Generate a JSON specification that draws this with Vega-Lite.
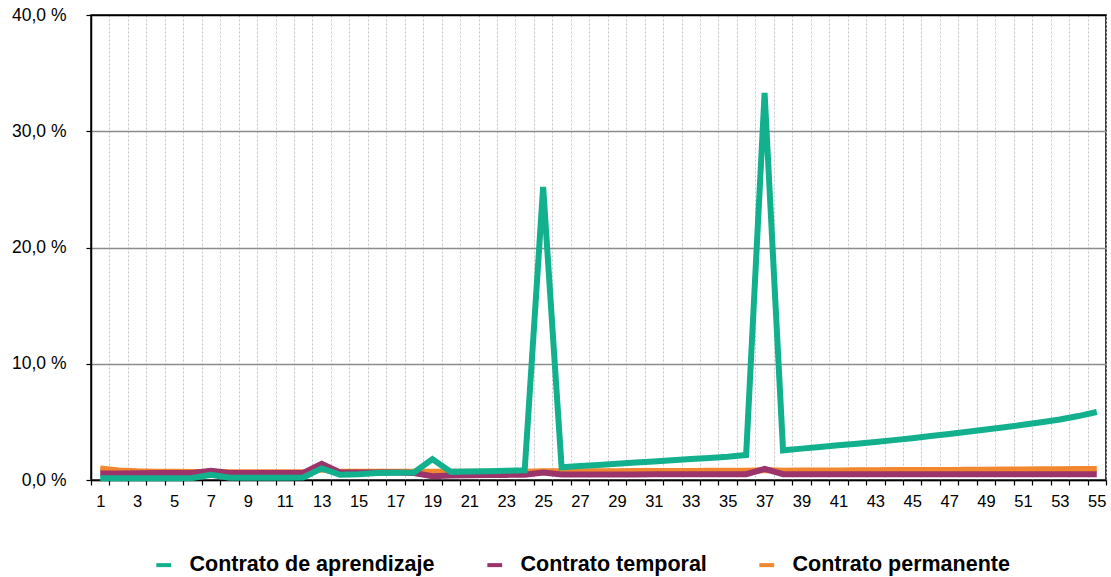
{
  "$schema": "https://vega.github.io/schema/vega-lite/v6.json",
  "autosize": {"type": "none"},
  "padding": {"left": 91, "top": 15, "right": 5, "bottom": 97},
  "width": 1015,
  "height": 465,
  "background": "white",
  "config": {
    "font": "Liberation Sans",
    "view": {"stroke": "#000", "strokeWidth": 1.5}
  },
  "data": {"values": [
    {"w":1,"s":"Contrato permanente","v":1.0},{"w":2,"s":"Contrato permanente","v":0.82},{"w":3,"s":"Contrato permanente","v":0.75},{"w":4,"s":"Contrato permanente","v":0.72},{"w":5,"s":"Contrato permanente","v":0.7},{"w":6,"s":"Contrato permanente","v":0.68},{"w":7,"s":"Contrato permanente","v":0.68},{"w":8,"s":"Contrato permanente","v":0.66},{"w":9,"s":"Contrato permanente","v":0.66},{"w":10,"s":"Contrato permanente","v":0.66},{"w":11,"s":"Contrato permanente","v":0.66},{"w":12,"s":"Contrato permanente","v":0.66},{"w":13,"s":"Contrato permanente","v":0.9},{"w":14,"s":"Contrato permanente","v":0.7},{"w":15,"s":"Contrato permanente","v":0.7},{"w":16,"s":"Contrato permanente","v":0.7},{"w":17,"s":"Contrato permanente","v":0.7},{"w":18,"s":"Contrato permanente","v":0.7},{"w":19,"s":"Contrato permanente","v":0.7},{"w":20,"s":"Contrato permanente","v":0.7},{"w":21,"s":"Contrato permanente","v":0.7},{"w":22,"s":"Contrato permanente","v":0.7},{"w":23,"s":"Contrato permanente","v":0.71},{"w":24,"s":"Contrato permanente","v":0.72},{"w":25,"s":"Contrato permanente","v":0.75},{"w":26,"s":"Contrato permanente","v":0.75},{"w":27,"s":"Contrato permanente","v":0.75},{"w":28,"s":"Contrato permanente","v":0.76},{"w":29,"s":"Contrato permanente","v":0.76},{"w":30,"s":"Contrato permanente","v":0.77},{"w":31,"s":"Contrato permanente","v":0.77},{"w":32,"s":"Contrato permanente","v":0.78},{"w":33,"s":"Contrato permanente","v":0.78},{"w":34,"s":"Contrato permanente","v":0.79},{"w":35,"s":"Contrato permanente","v":0.79},{"w":36,"s":"Contrato permanente","v":0.8},{"w":37,"s":"Contrato permanente","v":0.85},{"w":38,"s":"Contrato permanente","v":0.8},{"w":39,"s":"Contrato permanente","v":0.81},{"w":40,"s":"Contrato permanente","v":0.82},{"w":41,"s":"Contrato permanente","v":0.82},{"w":42,"s":"Contrato permanente","v":0.83},{"w":43,"s":"Contrato permanente","v":0.84},{"w":44,"s":"Contrato permanente","v":0.85},{"w":45,"s":"Contrato permanente","v":0.85},{"w":46,"s":"Contrato permanente","v":0.86},{"w":47,"s":"Contrato permanente","v":0.87},{"w":48,"s":"Contrato permanente","v":0.88},{"w":49,"s":"Contrato permanente","v":0.89},{"w":50,"s":"Contrato permanente","v":0.9},{"w":51,"s":"Contrato permanente","v":0.91},{"w":52,"s":"Contrato permanente","v":0.92},{"w":53,"s":"Contrato permanente","v":0.93},{"w":54,"s":"Contrato permanente","v":0.94},{"w":55,"s":"Contrato permanente","v":0.95},
    {"w":1,"s":"Contrato temporal","v":0.55},{"w":2,"s":"Contrato temporal","v":0.55},{"w":3,"s":"Contrato temporal","v":0.57},{"w":4,"s":"Contrato temporal","v":0.6},{"w":5,"s":"Contrato temporal","v":0.6},{"w":6,"s":"Contrato temporal","v":0.6},{"w":7,"s":"Contrato temporal","v":0.8},{"w":8,"s":"Contrato temporal","v":0.6},{"w":9,"s":"Contrato temporal","v":0.6},{"w":10,"s":"Contrato temporal","v":0.6},{"w":11,"s":"Contrato temporal","v":0.6},{"w":12,"s":"Contrato temporal","v":0.6},{"w":13,"s":"Contrato temporal","v":1.4},{"w":14,"s":"Contrato temporal","v":0.65},{"w":15,"s":"Contrato temporal","v":0.65},{"w":16,"s":"Contrato temporal","v":0.65},{"w":17,"s":"Contrato temporal","v":0.65},{"w":18,"s":"Contrato temporal","v":0.6},{"w":19,"s":"Contrato temporal","v":0.32},{"w":20,"s":"Contrato temporal","v":0.38},{"w":21,"s":"Contrato temporal","v":0.4},{"w":22,"s":"Contrato temporal","v":0.42},{"w":23,"s":"Contrato temporal","v":0.44},{"w":24,"s":"Contrato temporal","v":0.46},{"w":25,"s":"Contrato temporal","v":0.65},{"w":26,"s":"Contrato temporal","v":0.47},{"w":27,"s":"Contrato temporal","v":0.47},{"w":28,"s":"Contrato temporal","v":0.48},{"w":29,"s":"Contrato temporal","v":0.48},{"w":30,"s":"Contrato temporal","v":0.48},{"w":31,"s":"Contrato temporal","v":0.49},{"w":32,"s":"Contrato temporal","v":0.49},{"w":33,"s":"Contrato temporal","v":0.49},{"w":34,"s":"Contrato temporal","v":0.5},{"w":35,"s":"Contrato temporal","v":0.5},{"w":36,"s":"Contrato temporal","v":0.5},{"w":37,"s":"Contrato temporal","v":0.95},{"w":38,"s":"Contrato temporal","v":0.5},{"w":39,"s":"Contrato temporal","v":0.5},{"w":40,"s":"Contrato temporal","v":0.5},{"w":41,"s":"Contrato temporal","v":0.5},{"w":42,"s":"Contrato temporal","v":0.5},{"w":43,"s":"Contrato temporal","v":0.5},{"w":44,"s":"Contrato temporal","v":0.5},{"w":45,"s":"Contrato temporal","v":0.5},{"w":46,"s":"Contrato temporal","v":0.5},{"w":47,"s":"Contrato temporal","v":0.5},{"w":48,"s":"Contrato temporal","v":0.5},{"w":49,"s":"Contrato temporal","v":0.5},{"w":50,"s":"Contrato temporal","v":0.5},{"w":51,"s":"Contrato temporal","v":0.5},{"w":52,"s":"Contrato temporal","v":0.5},{"w":53,"s":"Contrato temporal","v":0.5},{"w":54,"s":"Contrato temporal","v":0.5},{"w":55,"s":"Contrato temporal","v":0.5},
    {"w":1,"s":"Contrato de aprendizaje","v":0.15},{"w":2,"s":"Contrato de aprendizaje","v":0.15},{"w":3,"s":"Contrato de aprendizaje","v":0.15},{"w":4,"s":"Contrato de aprendizaje","v":0.15},{"w":5,"s":"Contrato de aprendizaje","v":0.15},{"w":6,"s":"Contrato de aprendizaje","v":0.17},{"w":7,"s":"Contrato de aprendizaje","v":0.45},{"w":8,"s":"Contrato de aprendizaje","v":0.2},{"w":9,"s":"Contrato de aprendizaje","v":0.2},{"w":10,"s":"Contrato de aprendizaje","v":0.2},{"w":11,"s":"Contrato de aprendizaje","v":0.2},{"w":12,"s":"Contrato de aprendizaje","v":0.22},{"w":13,"s":"Contrato de aprendizaje","v":1.0},{"w":14,"s":"Contrato de aprendizaje","v":0.45},{"w":15,"s":"Contrato de aprendizaje","v":0.5},{"w":16,"s":"Contrato de aprendizaje","v":0.6},{"w":17,"s":"Contrato de aprendizaje","v":0.62},{"w":18,"s":"Contrato de aprendizaje","v":0.65},{"w":19,"s":"Contrato de aprendizaje","v":1.8},{"w":20,"s":"Contrato de aprendizaje","v":0.7},{"w":21,"s":"Contrato de aprendizaje","v":0.73},{"w":22,"s":"Contrato de aprendizaje","v":0.76},{"w":23,"s":"Contrato de aprendizaje","v":0.8},{"w":24,"s":"Contrato de aprendizaje","v":0.83},{"w":25,"s":"Contrato de aprendizaje","v":25.2},{"w":26,"s":"Contrato de aprendizaje","v":1.1},{"w":27,"s":"Contrato de aprendizaje","v":1.2},{"w":28,"s":"Contrato de aprendizaje","v":1.3},{"w":29,"s":"Contrato de aprendizaje","v":1.4},{"w":30,"s":"Contrato de aprendizaje","v":1.5},{"w":31,"s":"Contrato de aprendizaje","v":1.6},{"w":32,"s":"Contrato de aprendizaje","v":1.7},{"w":33,"s":"Contrato de aprendizaje","v":1.8},{"w":34,"s":"Contrato de aprendizaje","v":1.9},{"w":35,"s":"Contrato de aprendizaje","v":2.0},{"w":36,"s":"Contrato de aprendizaje","v":2.15},{"w":37,"s":"Contrato de aprendizaje","v":33.3},{"w":38,"s":"Contrato de aprendizaje","v":2.55},{"w":39,"s":"Contrato de aprendizaje","v":2.7},{"w":40,"s":"Contrato de aprendizaje","v":2.84},{"w":41,"s":"Contrato de aprendizaje","v":2.98},{"w":42,"s":"Contrato de aprendizaje","v":3.12},{"w":43,"s":"Contrato de aprendizaje","v":3.27},{"w":44,"s":"Contrato de aprendizaje","v":3.43},{"w":45,"s":"Contrato de aprendizaje","v":3.6},{"w":46,"s":"Contrato de aprendizaje","v":3.78},{"w":47,"s":"Contrato de aprendizaje","v":3.96},{"w":48,"s":"Contrato de aprendizaje","v":4.15},{"w":49,"s":"Contrato de aprendizaje","v":4.34},{"w":50,"s":"Contrato de aprendizaje","v":4.54},{"w":51,"s":"Contrato de aprendizaje","v":4.75},{"w":52,"s":"Contrato de aprendizaje","v":4.97},{"w":53,"s":"Contrato de aprendizaje","v":5.2},{"w":54,"s":"Contrato de aprendizaje","v":5.5},{"w":55,"s":"Contrato de aprendizaje","v":5.85}
  ]},
  "mark": {"type": "line", "strokeWidth": 6, "strokeJoin": "miter", "strokeCap": "butt"},
  "encoding": {
    "x": {
      "field": "w", "type": "ordinal", "bandPosition": 0.5,
      "scale": {"type": "band", "paddingInner": 0, "paddingOuter": 0},
      "axis": {
        "title": null, "labelAngle": 0, "tickBand": "extent",
        "labelExpr": "datum.value % 2 === 1 ? datum.label : ''",
        "labelFontSize": 16.5, "labelColor": "#000", "labelPadding": 8,
        "tickColor": "#000", "tickSize": 5, "tickWidth": 1.2,
        "domainColor": "#000", "domainWidth": 1.5,
        "grid": true, "gridColor": "#c4c4c4", "gridDash": [2, 2], "gridWidth": 1
      }
    },
    "y": {
      "field": "v", "type": "quantitative",
      "scale": {"domain": [0, 40], "nice": false},
      "axis": {
        "title": null, "values": [0, 10, 20, 30, 40],
        "labelExpr": "replace(format(datum.value, '.1f'), '.', ',') + ' %'",
        "labelFontSize": 17.5, "labelColor": "#000", "labelPadding": 20,
        "tickColor": "#000", "tickSize": 5, "tickWidth": 1.2,
        "domainColor": "#000", "domainWidth": 1.5,
        "gridColor": {"condition": {"test": "datum.value === 40", "value": "#000"}, "value": "#8c8c8c"},
        "gridWidth": 1.3
      }
    },
    "color": {
      "field": "s", "type": "nominal",
      "scale": {
        "domain": ["Contrato de aprendizaje", "Contrato temporal", "Contrato permanente"],
        "range": ["#13b08e", "#9a346b", "#f2872f"]
      },
      "legend": {
        "title": null, "orient": "none", "direction": "horizontal",
        "legendX": 62, "legendY": 539,
        "symbolType": "stroke", "symbolStrokeWidth": 4, "symbolSize": 220,
        "labelFontSize": 21.5, "labelFontWeight": "bold", "labelColor": "#000",
        "labelOffset": 15, "columnPadding": 44, "labelLimit": 400
      }
    }
  }
}
